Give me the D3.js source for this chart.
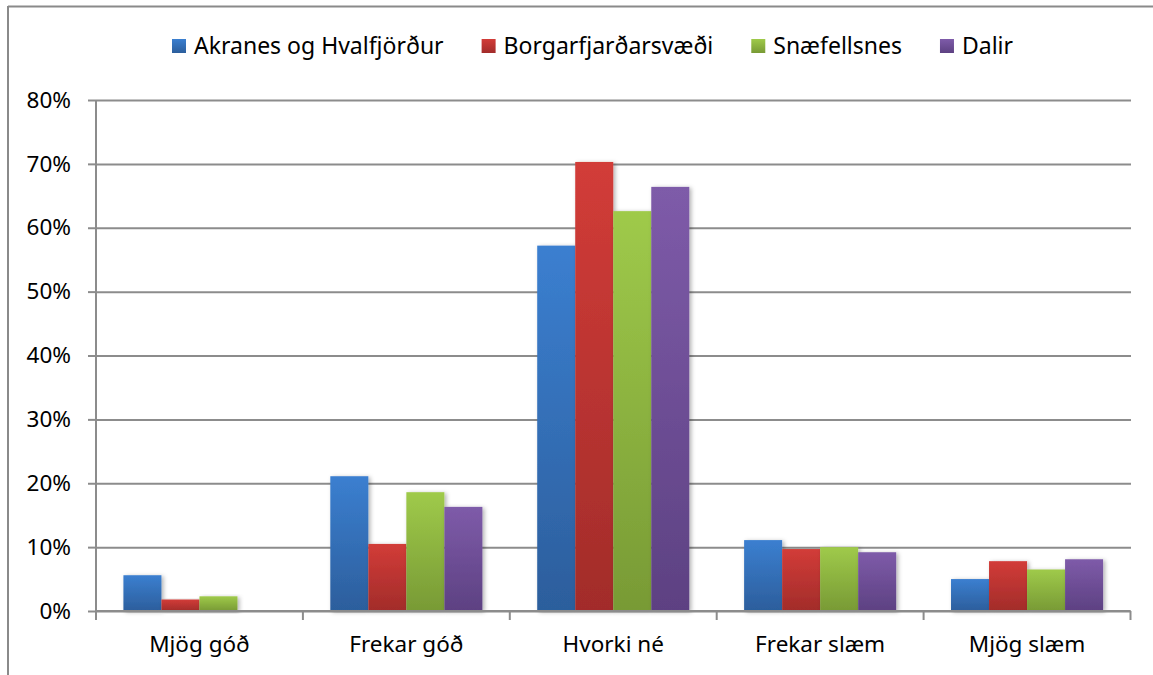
<!DOCTYPE html>
<html>
<head>
<meta charset="utf-8">
<script src="https://cdn.jsdelivr.net/npm/d3@7"></script>
<style>
  body { margin: 0; background: #fff; }
  text { font-family: "Noto Sans", "Open Sans", sans-serif; fill: #000; }
</style>
</head>
<body>
<div id="root"></div>
<script>
const categories = ["Mjög góð", "Frekar góð", "Hvorki né", "Frekar slæm", "Mjög slæm"];
const seriesNames = ["Akranes og Hvalfjörður", "Borgarfjarðarsvæði", "Snæfellsnes", "Dalir"];
const akranes = [0.056, 0.211, 0.572, 0.111, 0.050];
const borgarfjordur = [0.018, 0.105, 0.703, 0.097, 0.078];
const snaefellsnes = [0.023, 0.186, 0.626, 0.100, 0.065];
const dalir = [0.000, 0.163, 0.664, 0.092, 0.081];
const yTicks = [0, 0.1, 0.2, 0.3, 0.4, 0.5, 0.6, 0.7, 0.8];

const colorsTop = ["#3b7fd0", "#d23c38", "#9fca4a", "#7e5ba9"];
const colorsBottom = ["#2c5e9c", "#a22c2a", "#789a35", "#5d4182"];

const width = 1153, height = 675;
const margin = { top: 100, right: 22, bottom: 64, left: 96 };
const fontSize = 22.5;

const series = [akranes, borgarfjordur, snaefellsnes, dalir];

const svg = d3.select("#root").append("svg")
    .attr("width", width)
    .attr("height", height);

const defs = svg.append("defs");
seriesNames.forEach((name, i) => {
  const g = defs.append("linearGradient")
      .attr("id", `grad${i}`)
      .attr("x1", 0).attr("y1", 0).attr("x2", 0).attr("y2", 1);
  g.append("stop").attr("offset", "0%").attr("stop-color", colorsTop[i]);
  g.append("stop").attr("offset", "100%").attr("stop-color", colorsBottom[i]);
});
const shadow = defs.append("filter").attr("id", "shadow")
    .attr("x", "-20%").attr("y", "-10%").attr("width", "150%").attr("height", "130%");
shadow.append("feDropShadow")
    .attr("dx", 2).attr("dy", 1).attr("stdDeviation", 2)
    .attr("flood-color", "#000").attr("flood-opacity", 0.3);

// outer frame (top and left only visible)
svg.append("line").attr("x1", 8).attr("x2", width).attr("y1", 6.5).attr("y2", 6.5)
    .attr("stroke", "#8a8a8a").attr("stroke-width", 2);
svg.append("line").attr("x1", 8).attr("x2", 8).attr("y1", 6).attr("y2", height)
    .attr("stroke", "#8a8a8a").attr("stroke-width", 2);

const x0 = d3.scaleBand()
    .domain(categories)
    .range([margin.left, width - margin.right - 0.5])
    .paddingInner(0.265)
    .paddingOuter(0.1325);

const x1 = d3.scaleBand()
    .domain(d3.range(series.length))
    .range([0, x0.bandwidth()]);

const y = d3.scaleLinear()
    .domain([0, 0.8])
    .range([height - margin.bottom, margin.top]);

// gridlines + y labels
svg.append("g")
    .attr("transform", `translate(${margin.left},0)`)
    .call(d3.axisLeft(y).tickValues(yTicks).tickFormat(d3.format(".0%"))
        .tickSize(8).tickPadding(17))
    .call(g => g.select(".domain").remove())
    .call(g => g.selectAll(".tick line").clone()
        .attr("x2", width - margin.right - margin.left)
        .attr("stroke", "#8c8c8c").attr("stroke-width", 2))
    .call(g => g.selectAll(".tick line").attr("stroke", "#8c8c8c").attr("stroke-width", 2))
    .call(g => g.selectAll(".tick text")
        .attr("font-size", fontSize).attr("font-family", "Noto Sans").attr("fill", "#000"));

// bars
const groups = svg.append("g")
  .selectAll("g")
  .data(categories)
  .join("g")
    .attr("transform", d => `translate(${x0(d)},0)`);

groups.selectAll("rect")
  .data((c, ci) => series.map((s, si) => ({ si, v: s[ci] })))
  .join("rect")
    .attr("x", d => x1(d.si))
    .attr("y", d => y(d.v))
    .attr("width", x1.bandwidth())
    .attr("height", d => y(0) - y(d.v))
    .attr("fill", d => `url(#grad${d.si})`)
    .attr("filter", "url(#shadow)");

// y axis line
svg.append("line")
    .attr("x1", margin.left).attr("x2", margin.left)
    .attr("y1", margin.top).attr("y2", y(0))
    .attr("stroke", "#8c8c8c").attr("stroke-width", 2);

// x axis
const xEdges = d3.range(categories.length + 1)
    .map(i => margin.left + i * (width - margin.right - 0.5 - margin.left) / categories.length);
const xAxis = svg.append("g");
xAxis.append("line")
    .attr("x1", margin.left).attr("x2", xEdges[xEdges.length - 1])
    .attr("y1", y(0)).attr("y2", y(0))
    .attr("stroke", "#8c8c8c").attr("stroke-width", 2);
xAxis.selectAll("line.tick")
  .data(xEdges)
  .join("line")
    .attr("class", "tick")
    .attr("x1", d => d).attr("x2", d => d)
    .attr("y1", y(0)).attr("y2", y(0) + 9)
    .attr("stroke", "#8c8c8c").attr("stroke-width", 2);
xAxis.selectAll("text")
  .data(categories)
  .join("text")
    .attr("x", d => x0(d) + x0.bandwidth() / 2)
    .attr("y", y(0) + 41)
    .attr("text-anchor", "middle")
    .attr("font-size", fontSize)
    .text(d => d);

// legend
const legend = svg.append("g").attr("transform", "translate(172,46)");
let lx = 0;
seriesNames.forEach((name, i) => {
  const item = legend.append("g").attr("transform", `translate(${lx},0)`);
  item.append("rect")
      .attr("x", 0).attr("y", -7).attr("width", 14).attr("height", 14)
      .attr("fill", `url(#grad${i})`);
  const t = item.append("text")
      .attr("x", 22).attr("y", 8)
      .attr("font-size", 23)
      .text(name);
  lx += 22 + t.node().getComputedTextLength() + 38;
});
</script>
</body>
</html>
